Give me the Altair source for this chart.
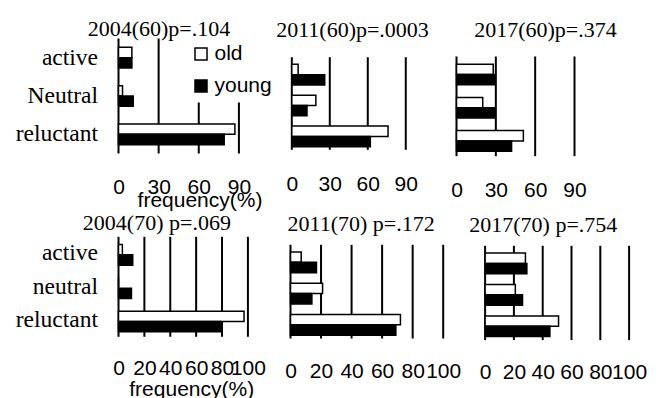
import altair as alt
import pandas as pd

# ---------------- data ----------------
categories_60 = ["active", "Neutral", "reluctant"]
categories_70 = ["active", "neutral", "reluctant"]
groups = ["old", "young"]

title_2004_60 = "2004(60)p=.104"
title_2011_60 = "2011(60)p=.0003"
title_2017_60 = "2017(60)p=.374"
title_2004_70 = "2004(70) p=.069"
title_2011_70 = "2011(70) p=.172"
title_2017_70 = "2017(70) p=.754"

old_2004_60 = [10, 3, 87]
young_2004_60 = [10, 11, 79]
old_2011_60 = [5, 19, 76]
young_2011_60 = [26, 12, 62]
old_2017_60 = [28, 20, 51]
young_2017_60 = [29, 29, 42]

old_2004_70 = [3, 0, 97]
young_2004_70 = [11, 10, 79]
old_2011_70 = [7, 21, 72]
young_2011_70 = [17, 14, 69]
old_2017_70 = [28, 21, 51]
young_2017_70 = [29, 26, 45]

ticks_60 = [0, 30, 60, 90]
ticks_70 = [0, 20, 40, 60, 80, 100]
x_title = "frequency(%)"

SERIF = "Liberation Serif"
SANS = "Liberation Sans"

# ---------------- layout (pixels) ----------------
ROW1_H = 117.7
ROW2_H = 103.3

legend = alt.Legend(
    title=None, orient="none", legendX=66, legendY=-1,
    fillColor="white", padding=6, symbolType="square", symbolSize=144,
    symbolStrokeColor="black", symbolStrokeWidth=1.5,
    labelFont=SANS, labelFontSize=21, labelColor="black",
    rowPadding=10, labelOffset=3, zindex=1,
)


def panel(cats, old, young, title, ticks, xdom, w, h, y0, y1, lab_pad,
          t_off, t_dx, show_y, xt=False, tx=0, ty=0):
    df = pd.DataFrame({
        "category": cats * 2,
        "group": [groups[0]] * len(cats) + [groups[1]] * len(cats),
        "value": old + young,
    })
    grid_df = pd.DataFrame({"t": ticks})
    ax = dict(values=ticks, grid=False, domain=False, ticks=False,
              labelFont=SANS, labelFontSize=21, labelColor="black",
              labelPadding=lab_pad, labelBaseline="alphabetic",
              labelOverlap=False, labelFlush=False)
    if xt:
        ax.update(title=x_title, titleX=tx, titleY=ty, titleFont=SANS,
                  titleFontSize=21, titleFontWeight="normal",
                  titleColor="black", titleBaseline="alphabetic",
                  titleAlign="center")
    else:
        ax.update(title=None)
    xscale = alt.Scale(domain=xdom, nice=False, zero=True)
    if show_y:
        yax = alt.Axis(title=None, domain=False, ticks=False,
                       labelFont=SERIF, labelFontSize=23.5,
                       labelColor="black", labelPadding=21)
    else:
        yax = None
    rules = alt.Chart(grid_df).mark_rule(color="black", strokeWidth=2).encode(
        x=alt.X("t:Q", scale=xscale, axis=alt.Axis(**ax)),
        y=alt.Y(datum=0, type="quantitative",
                scale=alt.Scale(domain=[0, 1], range=[y0, y1]), axis=None),
        y2=alt.Y2(datum=1),
    )
    bars = alt.Chart(df).mark_bar(stroke="black", strokeWidth=1.5).encode(
        x=alt.X("value:Q", scale=xscale, axis=alt.Axis(**ax)),
        y=alt.Y("category:N", sort=cats,
                scale=alt.Scale(domain=cats, range=[y0, y1],
                                paddingInner=0.46, paddingOuter=0.23),
                axis=yax),
        yOffset=alt.YOffset("group:N",
                            scale=alt.Scale(domain=groups, paddingInner=0,
                                            paddingOuter=0)),
        color=alt.Color("group:N",
                        scale=alt.Scale(domain=groups,
                                        range=["white", "black"]),
                        legend=legend),
    )
    return alt.layer(rules, bars).resolve_scale(y="independent").properties(
        width=w, height=h,
        title=alt.TitleParams(text=title, font=SERIF, fontSize=22,
                              fontWeight="normal", color="black",
                              baseline="alphabetic", offset=t_off,
                              dx=t_dx, anchor="middle", frame="group"),
    )


p1 = panel(categories_60, old_2004_60, young_2004_60, title_2004_60, ticks_60,
           [0, 118.4], 158.4, ROW1_H, 0, 115, 37, -20, -38.7, True,
           True, 81, 50.3)
p2 = panel(categories_60, old_2011_60, young_2011_60, title_2011_60, ticks_60,
           [-1.03, 119.8], 153, ROW1_H, 18.7, 111.3, 34.6, -20, -14.5, False)
p3 = panel(categories_60, old_2017_60, young_2017_60, title_2017_60, ticks_60,
           [0, 90], 118, ROW1_H, 18, 117.7, 40.3, -20, 30, False)

p4 = panel(categories_70, old_2004_70, young_2004_70, title_2004_70, ticks_70,
           [0, 122.4], 158.4, ROW2_H, 0, 100, 34.7, -16, -40.8, True,
           True, 72.7, 55.4)
p5 = panel(categories_70, old_2011_70, young_2011_70, title_2011_70, ticks_70,
           [0, 100.2], 153, ROW2_H, 8, 101.7, 36.9, -16.5, -5.9, False)
p6 = panel(categories_70, old_2017_70, young_2017_70, title_2017_70, ticks_70,
           [-19.86, 100], 172.6, ROW2_H, 9, 103.3, 37.9, -17, 0.5, False)

chart = alt.concat(
    p1, p2, p3, p4, p5, p6, columns=3,
    spacing={"row": 80.3, "column": 13},
    bounds="flush",
).properties(
    padding={"left": 14.5, "top": 17.5, "right": 5, "bottom": 0},
    background="white",
).configure_view(strokeWidth=0)

chart.save("out.html", embed_options={"renderer": "svg", "actions": False})
